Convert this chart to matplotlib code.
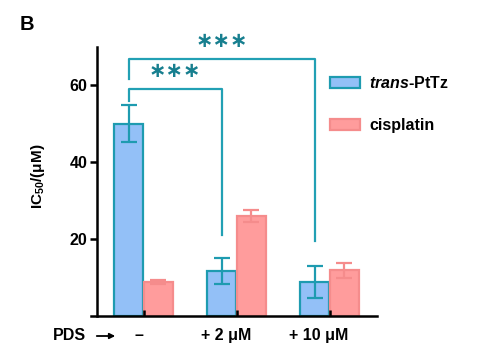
import matplotlib
matplotlib.use("Agg")
import matplotlib.pyplot as plt
from matplotlib.patches import Patch
import numpy as np

plt.rcParams['font.family'] = ['Liberation Sans', 'DejaVu Sans']
plt.rcParams['font.weight'] = 'bold'
plt.rcParams['mathtext.fontset'] = 'custom'
plt.rcParams['mathtext.rm'] = 'Liberation Sans:bold'
plt.rcParams['mathtext.it'] = 'Liberation Sans:italic:bold'

# data
groups = ['–', '+ 2 μM', '+ 10 μM']
trans_mean = [50.0, 11.7, 8.9]
trans_err = [4.8, 3.5, 4.2]
cis_mean = [8.8, 26.0, 11.9]
cis_err = [0.5, 1.5, 2.0]
# significance brackets: (left group, right group, left foot, top, right foot)
brackets = [(0, 1, 56.0, 59.2, 21.0), (0, 2, 61.8, 67.0, 19.5)]
stars = ['∗∗∗', '∗∗∗']

blue_fill = '#93c0f7'
blue_edge = '#1e9bb0'
pink_fill = '#ff9c9c'
pink_edge = '#f58c8c'
br_color = '#22a0b4'
star_color = '#177f8f'

fig = plt.figure(figsize=(4.8, 3.58), dpi=100)
ax = fig.add_axes([0.1896, 0.1173, 0.5958, 0.7514])

x = np.arange(len(groups))
w = 0.31
off = 0.16
ax.bar(x - off, trans_mean, w, color=blue_fill, edgecolor=blue_edge, linewidth=1.6,
       yerr=trans_err, error_kw=dict(ecolor=blue_edge, elinewidth=1.6, capsize=5.5, capthick=1.6))
ax.bar(x + off, cis_mean, w, color=pink_fill, edgecolor=pink_edge, linewidth=1.6,
       yerr=cis_err, error_kw=dict(ecolor=pink_edge, elinewidth=1.6, capsize=5.5, capthick=1.6))

for (g1, g2, y1, top, y2), s in zip(brackets, stars):
    xa, xb = g1 - off, g2 - off
    ax.plot([xa, xa, xb, xb], [y1, top, top, y2], color=br_color, lw=1.6, clip_on=False)
    ax.text((xa + xb) / 2, top + 2.0, s, color=star_color, ha='center', va='bottom',
            fontsize=15, fontweight='bold', family='DejaVu Sans')

ax.set_xlim(-0.565, 2.51)
ax.set_ylim(0, 70)
ax.spines['top'].set_visible(False)
ax.spines['right'].set_visible(False)
ax.spines['left'].set_position(('data', -0.5))
for sp in ['left', 'bottom']:
    ax.spines[sp].set_linewidth(1.8)
ax.set_yticks([20, 40, 60])
ax.tick_params(axis='y', direction='out', length=5, width=1.8, labelsize=11.5, pad=2)
ax.set_xticks(x)
ax.set_xticklabels([])
ax.tick_params(axis='x', direction='in', length=4, width=1.8)

for xi, lab, dx in zip(x, groups, [-0.05, -0.11, -0.12]):
    ax.text(xi + dx, -5, lab, ha='center', va='center', fontsize=11.5, fontweight='bold', clip_on=False)

fig.text(53 / 480, 1 - 336 / 358, 'PDS', ha='left', va='center', fontsize=11.5, fontweight='bold')
ax.annotate('', xy=(118, 358 - 336), xytext=(94, 358 - 336), xycoords='figure pixels',
            arrowprops=dict(arrowstyle='-|>', color='black', lw=1.3, mutation_scale=8))

fig.text(38 / 480, 1 - 176 / 358, 'IC$_{50}$/(μM)', rotation=90, ha='center', va='center',
         fontsize=11, fontweight='bold')
fig.text(20 / 480, 1 - 24 / 358, 'B', ha='left', va='center', fontsize=14.5, fontweight='bold')

handles = [Patch(facecolor=blue_fill, edgecolor=blue_edge, linewidth=1.6),
           Patch(facecolor=pink_fill, edgecolor=pink_edge, linewidth=1.6)]
fig.legend(handles, ['$\\it{trans}$-PtTz', 'cisplatin'], loc='upper left',
           bbox_to_anchor=(330 / 480, 1 - 75 / 358), frameon=False, fontsize=11.5,
           handlelength=1.9, handleheight=0.63, labelspacing=1.7, handletextpad=0.55,
           borderpad=0, borderaxespad=0)

fig.savefig('out.png', dpi=100)
